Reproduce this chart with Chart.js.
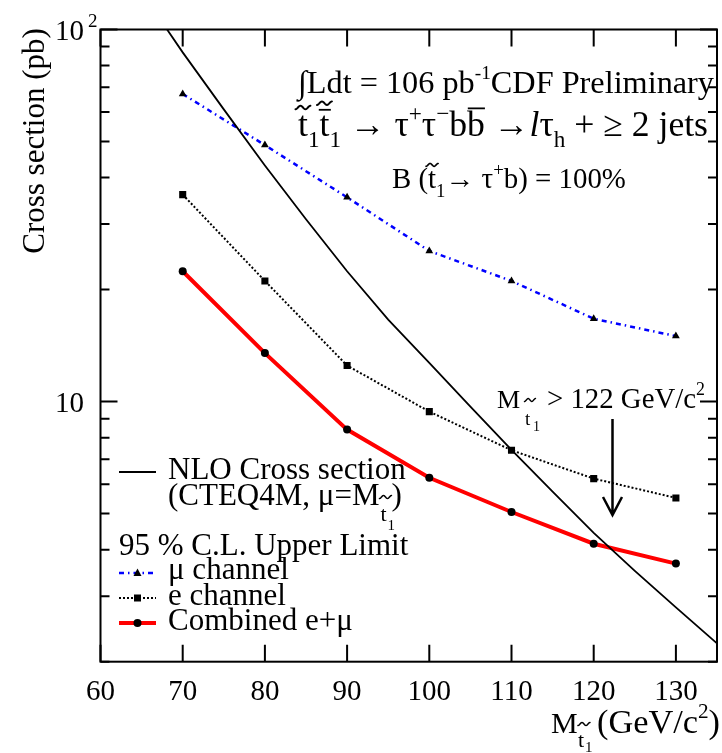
<!DOCTYPE html>
<html>
<head>
<meta charset="utf-8">
<script src="https://cdn.jsdelivr.net/npm/chart.js@4.4.0/dist/chart.umd.min.js"></script>
<style>
html,body{margin:0;padding:0;background:#fff;}
#wrap{width:722px;height:753px;position:relative;}
canvas{display:block;}
</style>
</head>
<body>
<div id="wrap"><canvas id="c" width="722" height="753"></canvas></div>
<script>
// ---- data ----
const masses      = [70, 80, 90, 100, 110, 120, 130];
const muChannel   = [67.1, 48.9, 35.4, 25.4, 21.1, 16.7, 15.0];
const eChannel    = [36.0, 21.1, 12.5, 9.40, 7.40, 6.21, 5.51];
const combined    = [22.4, 13.5, 8.41, 6.24, 5.05, 4.15, 3.67];
const nloMass     = [68.1, 70, 75, 80, 85, 90, 95, 100, 105, 110, 115, 120, 125, 130, 135];
const nloXsec     = [100, 86.8, 61.0, 43.1, 30.9, 22.4, 16.6, 12.7, 9.69, 7.42, 5.73, 4.44, 3.51, 2.80, 2.24];
const xTicks      = [60, 70, 80, 90, 100, 110, 120, 130];
const yMajor      = [10, 100];
const yMinor      = [2, 3, 4, 5, 6, 7, 8, 9, 20, 30, 40, 50, 60, 70, 80, 90];

const FONT = '"Liberation Serif","Times New Roman",serif';
const pts = (xs, ys) => xs.map((x, i) => ({x: x, y: ys[i]}));

function fnt(fs, it){ return (it ? 'italic ' : '') + fs.toFixed(2) + 'px ' + FONT; }

function tildePath(ctx, cx, cy, w, h, lw){
  ctx.save();
  ctx.beginPath();
  for (let i = 0; i <= 24; i++){
    const s = i / 24;
    const x = cx - w/2 + w*s;
    const y = cy + (h/2)*Math.cos(3*Math.PI*s);
    if (i === 0) ctx.moveTo(x, y); else ctx.lineTo(x, y);
  }
  ctx.lineWidth = lw; ctx.strokeStyle = '#000'; ctx.lineCap = 'round';
  ctx.stroke();
  ctx.restore();
}
function drawAcc(ctx, acc, x, w, by, fs){
  const cx = x + w/2;
  if (acc === 'tilde'){
    tildePath(ctx, cx, by - 0.80*fs, 0.42*fs, 0.10*fs, 0.055*fs);
  } else if (acc === 'tildebar'){
    tildePath(ctx, cx, by - 0.92*fs, 0.42*fs, 0.10*fs, 0.055*fs);
    ctx.fillRect(x - 0.02*fs, by - 0.76*fs, w + 0.06*fs, 0.05*fs);
  } else if (acc === 'bar'){
    ctx.fillRect(x + 0.02*fs, by - 0.80*fs, w - 0.02*fs, 0.05*fs);
  }
}
function richRun(ctx, segs, x, y, B, draw){
  let cx = x;
  for (const g of segs){
    const fs = B*(g.s || 1);
    ctx.font = fnt(fs, g.it);
    const w = ctx.measureText(g.t).width;
    const by = y + (g.dy || 0)*B;
    if (draw){
      ctx.fillText(g.t, cx, by);
      if (g.acc) drawAcc(ctx, g.acc, cx, w, by, fs);
    }
    cx += w + (g.gap || 0)*B;
  }
  return cx - x;
}
function fitRich(ctx, segs, x0, x1, y){
  const w10 = richRun(ctx, segs, 0, 0, 10, false);
  const B = 10*(x1 - x0)/w10;
  richRun(ctx, segs, x0, y, B, true);
  return B;
}

const overlay = {
  id: 'overlay',
  afterDatasetsDraw(chart){
    const ctx = chart.ctx;
    const a = chart.chartArea;
    const xs = chart.scales.x, ys = chart.scales.y;
    ctx.save();
    ctx.fillStyle = '#000';
    ctx.strokeStyle = '#000';
    ctx.textBaseline = 'alphabetic';

    // frame
    ctx.lineWidth = 2;
    ctx.strokeRect(a.left, a.top, a.right - a.left, a.bottom - a.top);

    // inward ticks
    ctx.lineWidth = 2;
    ctx.beginPath();
    xTicks.forEach(v => {
      const px = xs.getPixelForValue(v);
      ctx.moveTo(px, a.bottom); ctx.lineTo(px, a.bottom - 17);
      ctx.moveTo(px, a.top); ctx.lineTo(px, a.top + 17);
    });
    yMajor.forEach(v => {
      const py = ys.getPixelForValue(v);
      ctx.moveTo(a.left, py); ctx.lineTo(a.left + 17, py);
      ctx.moveTo(a.right, py); ctx.lineTo(a.right - 17, py);
    });
    yMinor.forEach(v => {
      const py = ys.getPixelForValue(v);
      ctx.moveTo(a.left, py); ctx.lineTo(a.left + 9, py);
      ctx.moveTo(a.right, py); ctx.lineTo(a.right - 9, py);
    });
    ctx.stroke();

    // x tick labels
    ctx.font = fnt(29);
    ctx.textAlign = 'center';
    xTicks.forEach(v => ctx.fillText(String(v), xs.getPixelForValue(v), 700));
    // y tick labels
    ctx.textAlign = 'right';
    const y10 = ys.getPixelForValue(10), y100 = ys.getPixelForValue(100);
    ctx.fillText('10', 84, y10 + 10);
    ctx.fillText('10', 84, y100 + 10.5);
    ctx.font = fnt(19);
    ctx.textAlign = 'left';
    ctx.fillText('2', 88, y100 - 2.5);

    // y axis title
    ctx.save();
    ctx.translate(44, 141);
    ctx.rotate(-Math.PI/2);
    ctx.font = fnt(31);
    ctx.textAlign = 'center';
    ctx.fillText('Cross section (pb)', 0, 0);
    ctx.restore();

    ctx.textAlign = 'left';
    // x axis title
    ctx.font = fnt(30);
    ctx.fillText('M', 551, 733);
    tildePath(ctx, 584, 724, 12, 3, 1.5);
    ctx.font = fnt(22);
    ctx.fillText('t', 578, 747);
    ctx.font = fnt(15);
    ctx.fillText('1', 585, 752);
    fitRich(ctx, [{t:'(GeV/c'},{t:'2', s:0.62, dy:-0.45},{t:')'}], 597, 720, 733);

    // header texts
    fitRich(ctx, [{t:'∫Ldt = 106 pb'},{t:'-1', s:0.6, dy:-0.42},{t:'CDF Preliminary'}], 298, 714, 93);
    fitRich(ctx, [
      {t:'t', acc:'tilde'},{t:'1', s:0.65, dy:0.3},
      {t:'t', acc:'tildebar'},{t:'1', s:0.65, dy:0.3},
      {t:' → τ'},{t:'+', s:0.65, dy:-0.42},{t:'τ'},{t:'−', s:0.65, dy:-0.42},
      {t:'b'},{t:'b', acc:'bar'},{t:' →'},{t:'l', it:true},{t:'τ'},{t:'h', s:0.65, dy:0.3},
      {t:' + ≥ 2 jets'}], 298, 708, 136);
    fitRich(ctx, [{t:'B ('},{t:'t', acc:'tilde'},{t:'1', s:0.65, dy:0.3},{t:'→ τ'},{t:'+', s:0.65, dy:-0.42},{t:'b) = 100%'}], 392, 626, 188);

    // limit annotation + arrow
    ctx.font = fnt(26);
    ctx.fillText('M', 497, 408);
    tildePath(ctx, 530, 400, 11, 3, 1.4);
    ctx.font = fnt(19);
    ctx.fillText('t', 525, 425);
    ctx.font = fnt(14);
    ctx.fillText('1', 533, 431);
    fitRich(ctx, [{t:'> 122 GeV/c'},{t:'2', s:0.62, dy:-0.45}], 547, 705, 408);
    ctx.lineWidth = 2.5;
    ctx.beginPath();
    ctx.moveTo(612.5, 419); ctx.lineTo(612.5, 515);
    ctx.moveTo(603, 497); ctx.lineTo(612.5, 515); ctx.lineTo(622, 497);
    ctx.stroke();

    // legend
    ctx.font = fnt(31);
    ctx.lineWidth = 1.8;
    ctx.beginPath(); ctx.moveTo(119, 472); ctx.lineTo(156, 472); ctx.stroke();
    ctx.fillText('NLO Cross section', 168, 479);
    const w2 = (ctx.measureText('(CTEQ4M, μ=M').width);
    ctx.fillText('(CTEQ4M, μ=M', 168, 505);
    const sx = 168 + w2;
    tildePath(ctx, sx + 6, 497, 12, 3, 1.5);
    ctx.font = fnt(22); ctx.fillText('t', sx + 1, 521);
    ctx.font = fnt(15); ctx.fillText('1', sx + 8, 530);
    ctx.font = fnt(31); ctx.fillText(')', sx + 12, 505);
    ctx.fillText('95 % C.L. Upper Limit', 119, 555);

    // mu sample
    ctx.save();
    ctx.strokeStyle = '#0000ff'; ctx.lineWidth = 2.5; ctx.setLineDash([5,4,1.5,4]);
    ctx.beginPath(); ctx.moveTo(119, 573); ctx.lineTo(156, 573); ctx.stroke();
    ctx.restore();
    ctx.beginPath(); ctx.moveTo(137.5, 568.5); ctx.lineTo(141.5, 576); ctx.lineTo(133.5, 576); ctx.closePath(); ctx.fill();
    ctx.fillText('μ channel', 168, 579);
    // e sample
    ctx.save();
    ctx.lineWidth = 2; ctx.setLineDash([2,2]);
    ctx.beginPath(); ctx.moveTo(119, 598); ctx.lineTo(156, 598); ctx.stroke();
    ctx.restore();
    ctx.fillRect(134, 594.5, 7, 7);
    ctx.fillText('e channel', 168, 605);
    // combined sample
    ctx.save();
    ctx.strokeStyle = '#ff0000'; ctx.lineWidth = 4;
    ctx.beginPath(); ctx.moveTo(119, 623); ctx.lineTo(156, 623); ctx.stroke();
    ctx.restore();
    ctx.beginPath(); ctx.arc(137.5, 623, 4, 0, Math.PI*2); ctx.fill();
    ctx.fillText('Combined e+μ', 168, 630);

    ctx.restore();
  }
};

new Chart(document.getElementById('c'), {
  type: 'line',
  data: {
    datasets: [
      { label: 'NLO Cross section', data: pts(nloMass, nloXsec), borderColor: '#000', borderWidth: 1.8,
        pointRadius: 0, tension: 0, fill: false },
      { label: 'μ channel', data: pts(masses, muChannel), borderColor: '#0000ff', borderWidth: 2.5,
        borderDash: [5,4,1.5,4], pointStyle: 'triangle', pointRadius: 4.5, pointBackgroundColor: '#000',
        pointBorderColor: '#000', pointBorderWidth: 0, tension: 0, fill: false },
      { label: 'e channel', data: pts(masses, eChannel), borderColor: '#000', borderWidth: 2,
        borderDash: [2,2], pointStyle: 'rect', pointRadius: 5, pointBackgroundColor: '#000',
        pointBorderColor: '#000', pointBorderWidth: 0, tension: 0, fill: false },
      { label: 'Combined e+μ', data: pts(masses, combined), borderColor: '#ff0000', borderWidth: 4,
        pointStyle: 'circle', pointRadius: 4, pointBackgroundColor: '#000', pointBorderColor: '#000',
        pointBorderWidth: 0, tension: 0, fill: false }
    ]
  },
  options: {
    responsive: false,
    animation: false,
    events: [],
    layout: { padding: { left: 100.5, top: 29.5, right: 1.7, bottom: 91.3 } },
    scales: {
      x: { type: 'linear', min: 60, max: 135, display: false },
      y: { type: 'logarithmic', min: 2, max: 100, display: false }
    },
    plugins: { legend: { display: false }, tooltip: { enabled: false } }
  },
  plugins: [overlay]
});
</script>
</body>
</html>
